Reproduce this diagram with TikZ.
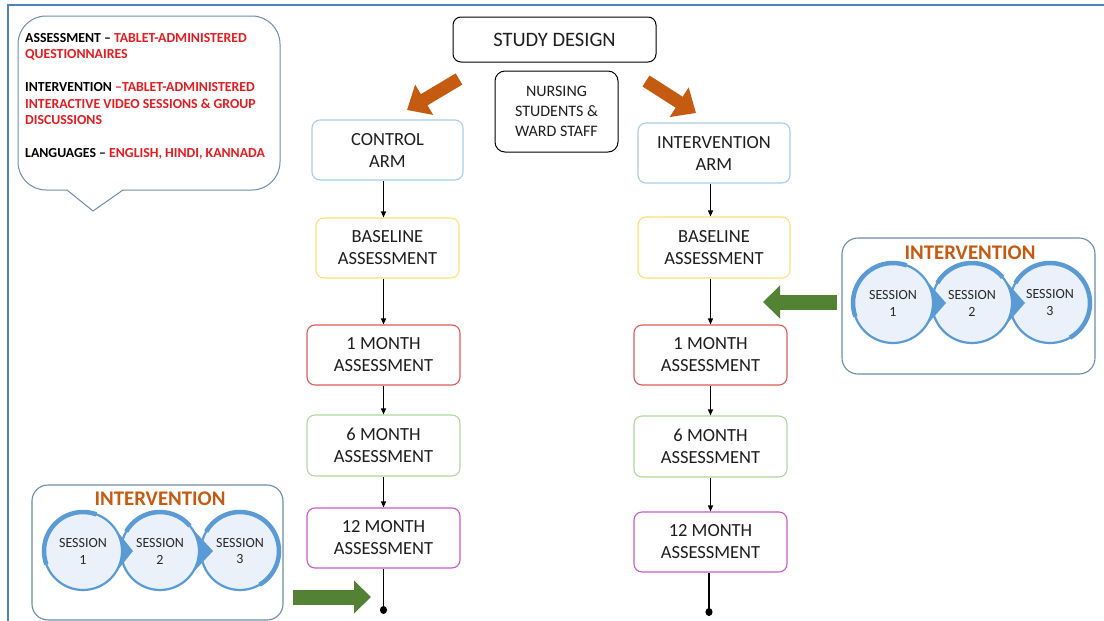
\documentclass[tikz,border=0pt]{standalone}
\usepackage{fontspec}
\setmainfont{Carlito}
\usetikzlibrary{arrows.meta,calc}
\definecolor{framec}{RGB}{79,129,189}
\definecolor{boxtext}{RGB}{30,30,30}
\definecolor{armc}{RGB}{170,205,230}
\definecolor{basec}{RGB}{255,222,120}
\definecolor{onec}{RGB}{222,90,90}
\definecolor{sixc}{RGB}{178,214,158}
\definecolor{twelvec}{RGB}{200,90,200}
\definecolor{ivborder}{RGB}{110,140,172}
\definecolor{sessblue}{RGB}{91,155,213}
\definecolor{sessfill}{RGB}{234,241,250}
\definecolor{sesstext}{RGB}{40,40,40}
\definecolor{arrorange}{RGB}{197,90,17}
\definecolor{arrgreen}{RGB}{84,130,53}
\definecolor{ivorange}{RGB}{197,90,17}
\definecolor{notered}{RGB}{228,28,32}
\begin{document}
\begin{tikzpicture}[x=1pt,y=-1pt,
  box/.style={draw, rounded corners=8pt, line width=1.1pt, fill=white, align=center,
    font=\fontsize{18.5}{22}\selectfont, text=boxtext, inner sep=0pt},
  conn/.style={line width=1.2pt, -{Triangle[length=6pt,width=5pt]}},
  enddot/.style={line width=1.2pt, -{Circle[length=8pt,width=7pt]}},
  sess/.style={circle, draw=sessblue, line width=2.2pt, fill=sessfill, minimum size=78pt,
    inner sep=0pt, align=center, font=\fontsize{14}{17}\selectfont, text=sesstext},
  thickarc/.style={draw=sessblue, line width=4.5pt},
  ivbox/.style={draw=ivborder, line width=1.1pt, rounded corners=16pt, fill=white, inner sep=0pt},
  ivlabel/.style={font=\bfseries\fontsize{20.8}{24}\selectfont, text=ivorange, inner sep=0pt},
  orangearr/.style={line width=13pt, draw=arrorange, -{Triangle[length=20pt,width=34pt]}},
  greenarr/.style={line width=15pt, draw=arrgreen, -{Triangle[length=17pt,width=32pt]}},
  notec/.style={draw=ivborder, line width=1pt}
]
\useasboundingbox (0,0) rectangle (1104,621);
\fill[white] (0,0) rectangle (1104,621);
% frame
\draw[framec, line width=2.5pt] (8,621) -- (8,5) -- (1104,5);

% callout
\draw[notec, rounded corners=28pt] (67,190) -- (18,190) -- (18,16) -- (280,16) -- (280,190) -- (123,190);
\draw[notec] (67,190) -- (93,211) -- (123,190);
\node[anchor=north west, inner sep=0pt, align=left, font=\bfseries\fontsize{13.8}{16.5}\selectfont] (note) at (25,33)
 {ASSESSMENT -- \textcolor{notered}{TABLET-ADMINISTERED}\\
  \textcolor{notered}{QUESTIONNAIRES}\\[16.5pt]
  INTERVENTION \textcolor{notered}{--TABLET-ADMINISTERED}\\
  \textcolor{notered}{INTERACTIVE VIDEO SESSIONS \& GROUP}\\
  \textcolor{notered}{DISCUSSIONS}\\[16.5pt]
  LANGUAGES -- \textcolor{notered}{ENGLISH, HINDI, KANNADA}};

% top boxes
\node[box, draw=black, line width=1pt, minimum width=203pt, minimum height=45pt, font=\fontsize{20.5}{24}\selectfont] (study) at (554.5,39.5) {STUDY DESIGN};
\node[box, draw=black, line width=1pt, rounded corners=10pt, minimum width=123pt, minimum height=81pt, font=\fontsize{16}{20}\selectfont] (nurse) at (556.5,111.5) {NURSING\\STUDENTS \&\\WARD STAFF};

% orange arrows
\coordinate (oL1) at (459,79);
\coordinate (oL2) at (407,110);
\coordinate (oR1) at (646,81);
\coordinate (oR2) at (696,113);
\draw[orangearr] (oL1) -- (oL2);
\draw[orangearr] (oR1) -- (oR2);

% control arm
\node[box, draw=armc, minimum width=151pt, minimum height=60pt] (carm) at (387.5,150) {CONTROL\\ARM};
\node[box, draw=basec, minimum width=143pt, minimum height=60pt] (cbase) at (387.5,248) {BASELINE\\ASSESSMENT};
\node[box, draw=onec, minimum width=153pt, minimum height=60pt] (c1) at (383.5,355) {1 MONTH\\ASSESSMENT};
\node[box, draw=sixc, minimum width=153pt, minimum height=61pt] (c6) at (383.5,445.5) {6 MONTH\\ASSESSMENT};
\node[box, draw=twelvec, minimum width=153pt, minimum height=60pt] (c12) at (383.5,538) {12 MONTH\\ASSESSMENT};
\coordinate (cend) at (383.5,614);
\draw[conn] (carm.south -| c1) -- (cbase.north -| c1);
\draw[conn] (cbase.south -| c1) -- (c1.north);
\draw[conn] (c1.south) -- (c6.north);
\draw[conn] (c6.south) -- (c12.north);
\draw[enddot] (c12.south) -- (cend);

% intervention arm
\node[box, draw=armc, minimum width=152pt, minimum height=60pt] (iarm) at (714,153) {INTERVENTION\\ARM};
\node[box, draw=basec, minimum width=152pt, minimum height=61pt] (ibase) at (714,247.5) {BASELINE\\ASSESSMENT};
\node[box, draw=onec, minimum width=153pt, minimum height=60pt] (i1) at (710.5,355) {1 MONTH\\ASSESSMENT};
\node[box, draw=sixc, minimum width=153pt, minimum height=61pt] (i6) at (710.5,446.5) {6 MONTH\\ASSESSMENT};
\node[box, draw=twelvec, minimum width=153pt, minimum height=60pt] (i12) at (710.5,542) {12 MONTH\\ASSESSMENT};
\coordinate (iend) at (709,616);
\draw[conn] (iarm.south -| i1) -- (ibase.north -| i1);
\draw[conn] (ibase.south -| i1) -- (i1.north);
\draw[conn] (i1.south) -- (i6.north);
\draw[conn] (i6.south) -- (i12.north);
\draw[enddot] (i12.south -| iend) -- (iend);

% right intervention box
\node[ivbox, minimum width=253pt, minimum height=136pt] (ivR) at (968.5,306) {};
\node[ivlabel] (ivRl) at (970,253) {INTERVENTION};
\coordinate (rc1) at (893,303);
\coordinate (rc2) at (972,303);
\coordinate (rc3) at (1050,303);
\node[sess, minimum size=80pt] (rs3) at (rc3) {SESSION\\3};
\draw[thickarc] ($(rc3)+(60:40)$) arc (60:-150:40);
\fill[sessblue] ($(rc2)+(38:40)$) -- ($(rc2)+(53,0)$) -- ($(rc2)+(-38:40)$) -- cycle;
\node[sess, minimum size=80pt] (rs2) at (rc2) {SESSION\\2};
\draw[thickarc] ($(rc2)+(-40:40)$) arc (-40:-150:40);
\fill[sessblue] ($(rc1)+(38:40)$) -- ($(rc1)+(53,0)$) -- ($(rc1)+(-38:40)$) -- cycle;
\node[sess, minimum size=80pt] (rs1) at (rc1) {SESSION\\1};
\draw[thickarc] ($(rc1)+(-70:40)$) arc (-70:-200:40);
\coordinate (gR1) at (837,302);
\coordinate (gR2) at (763,302);
\draw[greenarr] (gR1) -- (gR2);

% bottom-left intervention box
\node[ivbox, minimum width=251pt, minimum height=135pt] (ivL) at (157.5,552.5) {};
\node[ivlabel] (ivLl) at (160,499) {INTERVENTION};
\coordinate (lc1) at (83,551);
\coordinate (lc2) at (160,551);
\coordinate (lc3) at (240,551);
\node[sess] (ls3) at (lc3) {SESSION\\3};
\draw[thickarc] ($(lc3)+(60:39)$) arc (60:-150:39);
\fill[sessblue] ($(lc2)+(38:39)$) -- ($(lc2)+(53,0)$) -- ($(lc2)+(-38:39)$) -- cycle;
\node[sess] (ls2) at (lc2) {SESSION\\2};
\draw[thickarc] ($(lc2)+(-40:39)$) arc (-40:-150:39);
\fill[sessblue] ($(lc1)+(38:39)$) -- ($(lc1)+(50,0)$) -- ($(lc1)+(-38:39)$) -- cycle;
\node[sess] (ls1) at (lc1) {SESSION\\1};
\draw[thickarc] ($(lc1)+(-70:39)$) arc (-70:-200:39);
\coordinate (gL1) at (293,597);
\coordinate (gL2) at (371,597);
\draw[greenarr] (gL1) -- (gL2);
\end{tikzpicture}
\end{document}
